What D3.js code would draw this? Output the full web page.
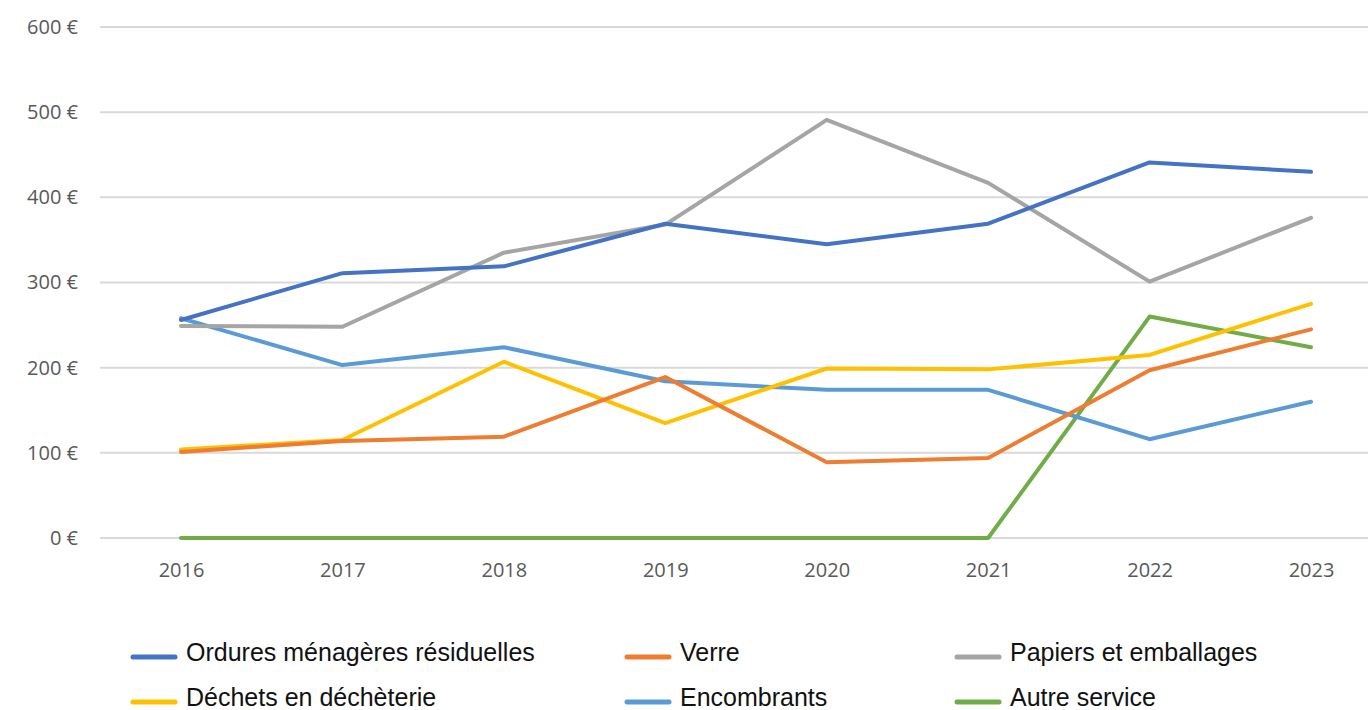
<!DOCTYPE html>
<html><head><meta charset="utf-8">
<script src="https://cdn.jsdelivr.net/npm/d3@7"></script>
<style>
html,body{margin:0;padding:0;background:#fff;}
svg{display:block;}
</style></head>
<body>
<svg id="chart" width="1368" height="710"></svg>
<script>
const years = ["2016","2017","2018","2019","2020","2021","2022","2023"];
const yTicks = [0,100,200,300,400,500,600];
const seriesNames = ["Ordures ménagères résiduelles","Verre","Papiers et emballages","Déchets en déchèterie","Encombrants","Autre service"];
const seriesColors = ["#4472C4","#ED7D31","#A5A5A5","#FFC000","#5B9BD5","#70AD47"];
const ordures = [256,311,319,369,345,369,441,430];
const verre = [101,114,119,189,89,94,197,245];
const papiers = [249,248,335,368,491,417,301,376];
const dechets = [104,115,207,135,199,198,215,275];
const encombrants = [258,203,224,184,174,174,116,160];
const autre = [0,0,0,0,0,0,260,224];
// draw order (back to front)
const drawOrder = [5,4,3,1,2,0];
const allValues = [ordures,verre,papiers,dechets,encombrants,autre];

const svg = d3.select("#chart");
const x = d3.scalePoint().domain(years).range([181,1311]);
const y = d3.scaleLinear().domain([0,600]).range([538,27]);

// gridlines
svg.append("g").selectAll("line").data(yTicks).join("line")
  .attr("x1",100).attr("x2",1368)
  .attr("y1",d=>y(d)).attr("y2",d=>y(d))
  .attr("stroke","#d9d9d9").attr("stroke-width",2);

// y labels
const yAxis = d3.axisLeft(y).tickValues(yTicks).tickSize(0).tickPadding(0)
  .tickFormat(d=>d+" €");
const gy = svg.append("g").attr("transform","translate(78,0)").call(yAxis);
gy.select(".domain").remove();
gy.selectAll("text").attr("font-family","'Open Sans', sans-serif").attr("font-size",20).attr("fill","#595959");

// x labels
const xAxis = d3.axisBottom(x).tickSize(0).tickPadding(0);
const gx = svg.append("g").attr("transform","translate(0,563)").call(xAxis);
gx.select(".domain").remove();
gx.selectAll("text").attr("font-family","'Open Sans', sans-serif").attr("font-size",20).attr("fill","#595959");

const line = d3.line().x((d,i)=>x(years[i])).y(d=>y(d));
svg.append("g").selectAll("path").data(drawOrder).join("path")
  .attr("d",k=>line(allValues[k]))
  .attr("fill","none")
  .attr("stroke",k=>seriesColors[k])
  .attr("stroke-width",4)
  .attr("stroke-linejoin","round")
  .attr("stroke-linecap","round");

// legend
const legX = [133,627,957];
const legY = [657,702];
const leg = svg.append("g").selectAll("g").data(seriesNames).join("g")
  .attr("transform",(d,i)=>`translate(${legX[i%3]},${legY[Math.floor(i/3)]})`);
leg.append("line").attr("x1",0).attr("x2",42).attr("y1",0).attr("y2",0)
  .attr("stroke",(d,i)=>seriesColors[i]).attr("stroke-width",5).attr("stroke-linecap","round");
leg.append("text").attr("x",53).attr("y",4).text(d=>d)
  .attr("font-family","'Liberation Sans Narrow','Liberation Sans', sans-serif")
  .attr("font-size",25).attr("fill","#111");
</script>
</body></html>
